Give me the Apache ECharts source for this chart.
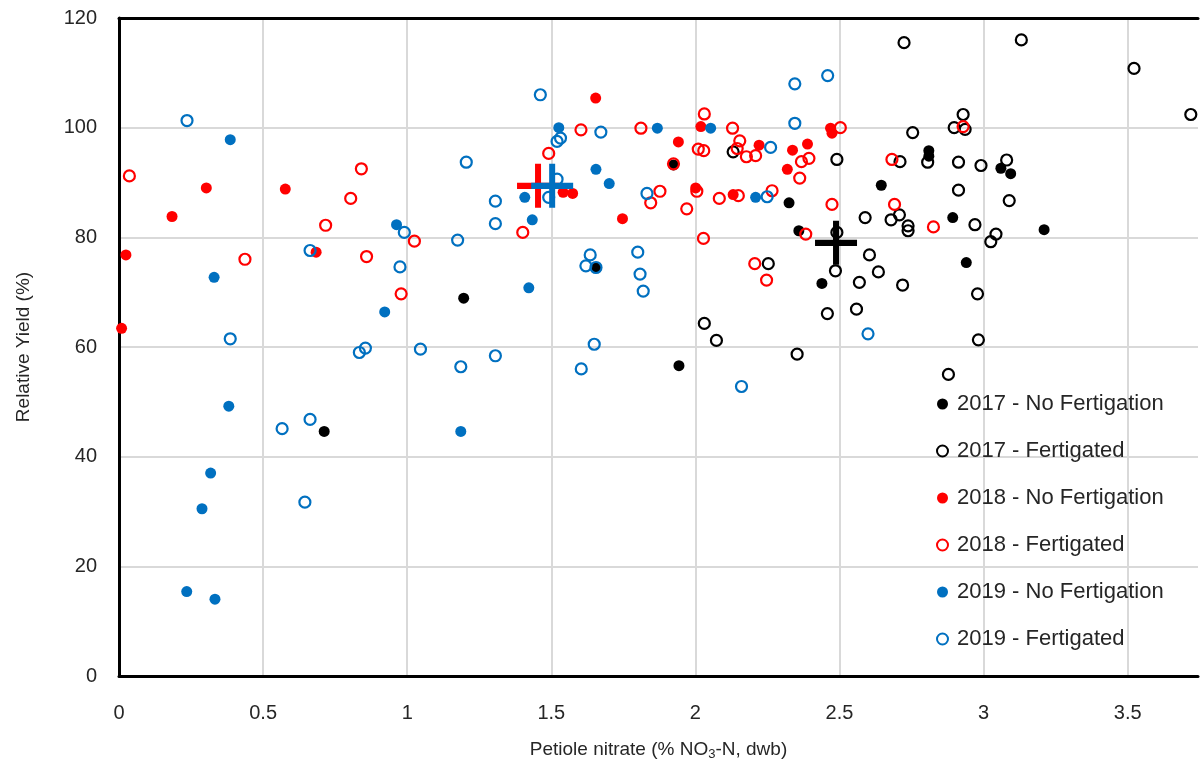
<!DOCTYPE html>
<html>
<head>
<meta charset="utf-8">
<script src="https://cdn.jsdelivr.net/npm/echarts@6/dist/echarts.min.js"></script>
<style>
html,body{margin:0;padding:0;background:#fff;}
#chart{width:1201px;height:771px;}
</style>
</head>
<body>
<div id="chart"></div>
<script>
// ---- data ----
const seriesNames = ['2017 - No Fertigation','2017 - Fertigated','2018 - No Fertigation','2018 - Fertigated','2019 - No Fertigation','2019 - Fertigated'];
const yTicks = [0,20,40,60,80,100,120];
const xTicks = [0,0.5,1,1.5,2,2.5,3,3.5];

const noFert2017 = [
  [0.712,44.6],[1.196,68.9],[1.657,74.5],[1.924,93.2],[1.943,56.6],[2.325,86.3],[2.359,81.2],
  [2.439,71.6],[2.645,89.5],[2.810,95.8],[2.810,94.8],[2.893,83.6],[2.940,75.4],[3.060,92.6],
  [3.094,91.6],[3.210,81.4]
];
const fert2017 = [
  [2.131,95.6],[2.031,64.3],[2.073,61.2],[2.253,75.2],[2.353,58.7],[2.458,66.1],[2.486,73.9],
  [2.491,80.9],[2.491,94.2],[2.559,66.9],[2.569,71.8],[2.589,83.6],[2.604,76.8],[2.635,73.7],
  [2.679,83.2],[2.708,84.1],[2.710,93.8],[2.719,71.3],[2.724,115.5],[2.738,82.1],[2.738,81.2],
  [2.754,99.1],[2.806,93.7],[2.878,55.0],[2.898,100.0],[2.913,93.7],[2.913,88.6],[2.929,102.4],
  [2.936,99.7],[2.970,82.3],[2.979,69.7],[2.982,61.3],[2.991,93.1],[3.025,79.2],[3.043,80.6],
  [3.080,94.1],[3.089,86.7],[3.131,116.0],[3.522,110.8],[3.719,102.4]
];
const noFert2018 = [
  [0.009,63.4],[0.024,76.8],[0.184,83.8],[0.303,89.0],[0.577,88.8],[0.684,77.3],[1.541,88.2],
  [1.574,88.0],[1.654,105.4],[1.747,83.4],[1.941,97.4],[2.001,89.0],[2.019,100.2],[2.131,87.8],
  [2.221,96.8],[2.319,92.4],[2.337,95.9],[2.389,97.0],[2.469,99.9],[2.474,99.0]
];
const fert2018 = [
  [0.036,91.2],[0.437,76.0],[0.717,82.2],[0.804,87.1],[0.841,92.5],[0.859,76.5],[0.979,69.7],
  [1.025,79.3],[1.401,80.9],[1.491,95.3],[1.603,99.6],[1.811,99.9],[1.845,86.3],[1.877,88.4],
  [1.924,93.4],[1.970,85.2],[2.005,88.4],[2.010,96.1],[2.028,79.8],[2.029,95.8],[2.031,102.5],
  [2.083,87.1],[2.129,99.9],[2.145,96.2],[2.149,87.6],[2.154,97.6],[2.177,94.7],[2.206,75.2],
  [2.209,94.9],[2.247,72.2],[2.266,88.5],[2.362,90.8],[2.368,93.8],[2.383,80.6],[2.394,94.4],
  [2.474,86.0],[2.503,100.0],[2.682,94.2],[2.691,86.0],[2.826,81.9],[2.929,100.2]
];
const noFert2019 = [
  [0.235,15.4],[0.288,30.5],[0.318,37.0],[0.330,72.7],[0.333,14.0],[0.381,49.2],[0.386,97.8],
  [0.922,66.4],[0.963,82.3],[1.186,44.6],[1.408,87.3],[1.422,70.8],[1.434,83.2],[1.526,100.0],
  [1.655,92.4],[1.701,89.8],[1.868,99.9],[2.053,99.9],[2.209,87.3]
];
const fert2019 = [
  [0.236,101.3],[0.386,61.5],[0.566,45.1],[0.645,31.7],[0.663,46.8],[0.663,77.6],[0.834,59.0],
  [0.855,59.8],[0.975,74.6],[0.990,80.9],[1.046,59.6],[1.175,79.5],[1.186,56.4],[1.205,93.7],
  [1.306,58.4],[1.306,86.6],[1.306,82.5],[1.462,106.0],[1.491,87.3],[1.520,90.6],[1.520,97.5],
  [1.532,98.1],[1.604,56.0],[1.620,74.8],[1.635,76.8],[1.649,60.5],[1.655,74.5],[1.672,99.2],
  [1.800,77.3],[1.808,73.3],[1.819,70.2],[1.832,88.0],[2.160,52.8],[2.249,87.4],[2.261,96.4],
  [2.345,108.0],[2.345,100.8],[2.459,109.5],[2.599,62.4]
];
// group means (large crosses)
const mean2018 = [[1.454,89.4]];
const mean2019 = [[1.503,89.4]];
const mean2017 = [[2.488,79.0]];

// ---- chart ----
const BLACK = '#000000', RED = '#ff0000', BLUE = '#0070c0';
const FONT = 'Liberation Sans';
const crossPath = 'path://M18,0 H24 V18 H42 V24 H24 V42 H18 V24 H0 V18 H18 Z';

function filled(name, data, color) {
  return { name, type: 'scatter', data, symbol: 'circle', symbolSize: 11,
    itemStyle: { color, opacity: 1 }, z: 3 };
}
function open(name, data, color) {
  return { name, type: 'scatter', data, symbol: 'circle', symbolSize: 11,
    itemStyle: { color: 'rgba(255,255,255,0)', borderColor: color, borderWidth: 2.2, opacity: 1 }, z: 3 };
}
function cross(name, data, color) {
  return { name, type: 'scatter', data, symbol: crossPath, symbolSize: [42, 44],
    itemStyle: { color, opacity: 1 }, z: 4, silent: true };
}

const chart = echarts.init(document.getElementById('chart'), null, { renderer: 'canvas' });
chart.setOption({
  backgroundColor: '#fff',
  animation: false,
  textStyle: { fontFamily: FONT },
  grid: { left: 119, top: 18, right: 0, bottom: 95, show: false, containLabel: false },
  legend: {
    data: seriesNames,
    orient: 'vertical',
    left: 931, top: 388,
    itemWidth: 11, itemHeight: 11, itemGap: 25,
    textStyle: { fontFamily: FONT, fontSize: 22, color: '#262626', lineHeight: 22, padding: [0, 0, 0, 4] },
    inactiveColor: '#ccc'
  },
  xAxis: [{
    type: 'value', min: 0, max: 3.744, interval: 0.5,
    name: '{a|Petiole nitrate (% NO}{s|3}{a|-N, dwb)}',
    nameLocation: 'middle', nameGap: 62,
    nameTextStyle: { rich: {
      a: { fontFamily: FONT, fontSize: 19, color: '#262626' },
      s: { fontFamily: FONT, fontSize: 13, color: '#262626', verticalAlign: 'bottom', padding: [10, 0, 0, 0] }
    } },
    axisLine: { show: true, onZero: false, lineStyle: { color: '#000', width: 3 } },
    axisTick: { show: false },
    splitLine: { show: true, showMaxLine: false, lineStyle: { color: '#d9d9d9', width: 2 } },
    axisLabel: { fontSize: 20, color: '#262626', margin: 27,
      formatter: v => xTicks.some(t => Math.abs(t - v) < 1e-6) ? String(v) : '' }
  }, {
    type: 'value', position: 'top', min: 0, max: 3.744, interval: 0.5,
    axisLine: { show: true, onZero: false, lineStyle: { color: '#000', width: 3 } },
    axisTick: { show: false }, axisLabel: { show: false }, splitLine: { show: false }
  }],
  yAxis: {
    type: 'value', min: yTicks[0], max: yTicks[yTicks.length - 1], interval: 20,
    name: 'Relative Yield (%)',
    nameLocation: 'middle', nameGap: 86,
    nameTextStyle: { fontFamily: FONT, fontSize: 19, color: '#262626' },
    axisLine: { show: true, lineStyle: { color: '#000', width: 3 } },
    axisTick: { show: false },
    splitLine: { show: true, showMaxLine: false, lineStyle: { color: '#d9d9d9', width: 2 } },
    axisLabel: { fontSize: 20, color: '#262626', margin: 22 }
  },
  series: [
    filled(seriesNames[0], noFert2017, BLACK),
    open(seriesNames[1], fert2017, BLACK),
    filled(seriesNames[2], noFert2018, RED),
    open(seriesNames[3], fert2018, RED),
    filled(seriesNames[4], noFert2019, BLUE),
    open(seriesNames[5], fert2019, BLUE),
    cross('2018 mean', mean2018, RED),
    cross('2019 mean', mean2019, BLUE),
    cross('2017 mean', mean2017, BLACK)
  ]
});
</script>
</body>
</html>
